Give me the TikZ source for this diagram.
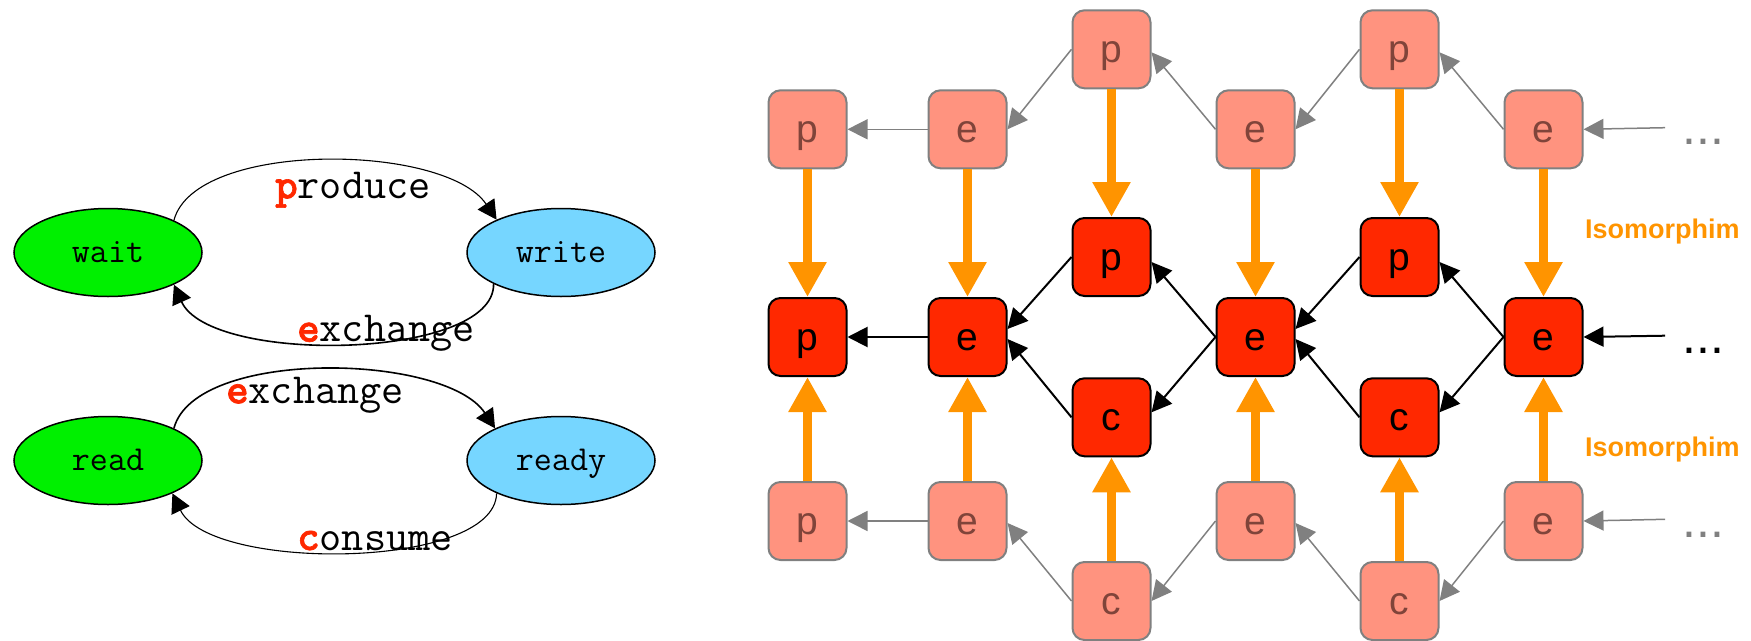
\documentclass[tikz,border=0pt]{standalone}
\usepackage{fontspec}
\usetikzlibrary{arrows.meta,shapes.geometric}
\newfontfamily\arialf{Liberation Sans}
\newfontfamily\monobold{lmmonolt10-bold}[Extension=.otf, FakeBold=1.5]
\definecolor{nodered}{RGB}{255,40,0}
\definecolor{lightfill}{RGB}{255,147,127}
\definecolor{lighttext}{RGB}{128,68,58}
\definecolor{graycol}{RGB}{128,128,128}
\definecolor{isoorange}{RGB}{255,148,0}
\definecolor{stgreen}{RGB}{0,240,0}
\definecolor{stblue}{RGB}{118,214,255}
\newcommand\initl[1]{\textcolor{nodered}{\monobold #1}}
\begin{document}
\begin{tikzpicture}[x=1pt,y=-1pt,
  state/.style={ellipse, draw, line width=1.5pt, minimum width=188pt, minimum height=88pt,
    inner sep=0pt, font=\ttfamily\fontsize{35}{40}\selectfont, text height=20pt, text depth=0pt},
  lbl/.style={anchor=base west, inner sep=0pt, font=\ttfamily\fontsize{43}{48}\selectfont},
  trans/.style={-{Triangle[length=19pt,width=20pt]}, line width=1.1pt},
  box/.style={rectangle, rounded corners=12pt, minimum width=78pt, minimum height=78pt,
    inner sep=0pt, font=\arialf\fontsize{39}{45}\selectfont, text height=26.5pt, text depth=0pt},
  dbox/.style={box, draw=black, fill=nodered, line width=2pt, text=black},
  lbox/.style={box, draw=graycol, fill=lightfill, line width=2pt, text=lighttext},
  darr/.style={-{Triangle[length=20pt,width=20pt]}, line width=2pt, draw=black},
  larr/.style={-{Triangle[length=20pt,width=20pt]}, line width=1.5pt, draw=graycol},
  isoarr/.style={-{Triangle[length=35pt,width=36pt]}, line width=9pt, draw=isoorange},
  dots/.style={anchor=base west, inner sep=0pt, font=\arialf\fontsize{50}{60}\selectfont},
  isol/.style={anchor=base west, inner sep=0pt, text=isoorange, font=\arialf\bfseries\fontsize{27}{32}\selectfont}
]
\useasboundingbox (0,0) rectangle (1751,640);

% ---------- left state machines ----------
\node[state, fill=stgreen] (wait) at (108,252.5) {wait};
\node[state, fill=stblue] (write) at (561,252.5) {write};
\node[state, fill=stgreen] (read) at (108,460.5) {read};
\node[state, fill=stblue] (ready) at (561,460.5) {ready};

\draw[trans] (wait.26) .. controls (195,140) and (445,143) .. (write.153);
\draw[trans, line width=1.6pt] (write.205) .. controls (495,360) and (210,365) .. (wait.334);
\draw[trans, line width=1.6pt] (read.26) .. controls (195,348) and (445,353) .. (ready.154);
\draw[trans] (ready.207) .. controls (495,570) and (210,572) .. (read.333);

\node[lbl] (lp) at (275,198.3) {\initl{p}roduce};
\node[lbl] (le1) at (297,341.7) {\initl{e}xchange};
\node[lbl] (le2) at (226,403.3) {\initl{e}xchange};
\node[lbl] (lc) at (297,550) {\initl{c}onsume};

% ---------- right lattice ----------
% light top
\node[lbox] (lP1) at (807.5,129.3) {p};
\node[lbox] (lE2) at (967.5,129.3) {e};
\node[lbox] (lP3) at (1111.5,49.3) {p};
\node[lbox] (lE4) at (1255.5,129.3) {e};
\node[lbox] (lP5) at (1399.5,49.3) {p};
\node[lbox] (lE6) at (1543.5,129.3) {e};
% dark middle
\node[dbox] (dP1) at (807.5,337) {p};
\node[dbox] (dE2) at (967.5,337) {e};
\node[dbox] (dP3) at (1111.5,257) {p};
\node[dbox] (dC3) at (1111.5,417.3) {c};
\node[dbox] (dE4) at (1255.5,337) {e};
\node[dbox] (dP5) at (1399.5,257) {p};
\node[dbox] (dC5) at (1399.5,417.3) {c};
\node[dbox] (dE6) at (1543.5,337) {e};
% light bottom
\node[lbox] (bP1) at (807.5,521) {p};
\node[lbox] (bE2) at (967.5,521) {e};
\node[lbox] (bC3) at (1111.5,601) {c};
\node[lbox] (bE4) at (1255.5,521) {e};
\node[lbox] (bC5) at (1399.5,601) {c};
\node[lbox] (bE6) at (1543.5,521) {e};

% dots and labels
\node[dots, text=graycol] (dt1) at (1682,144) {...};
\node[dots, text=black] (dt2) at (1682,353.5) {...};
\node[dots, text=graycol] (dt3) at (1682,537.5) {...};
\coordinate (s1) at (1665,127.7);
\coordinate (s2) at (1665,335.7);
\coordinate (s3) at (1665,519.3);
\node[isol] (iso1) at (1585,238.3) {Isomorphim};
\node[isol] (iso2) at (1585,456.7) {Isomorphim};

% gray edges top
\draw[larr] (lE2.west) -- (lP1.east);
\draw[larr] (lP3.west) -- (lE2.east);
\draw[larr] (lE4.west) -- ([yshift=-3pt]lP3.east);
\draw[larr] (lP5.west) -- (lE4.east);
\draw[larr] (lE6.west) -- ([yshift=-3pt]lP5.east);
\draw[larr] (s1) -- (lE6.east);
% gray edges bottom
\draw[larr] (bE2.west) -- (bP1.east);
\draw[larr] (bC3.west) -- ([yshift=-2pt]bE2.east);
\draw[larr] (bE4.west) -- (bC3.east);
\draw[larr] (bC5.west) -- ([yshift=-2pt]bE4.east);
\draw[larr] (bE6.west) -- (bC5.east);
\draw[larr] (s3) -- (bE6.east);
% black edges
\draw[darr] (dE2.west) -- (dP1.east);
\draw[darr] (dP3.west) -- ([yshift=8pt]dE2.east);
\draw[darr] (dC3.west) -- ([yshift=-2pt]dE2.east);
\draw[darr] (dE4.west) -- ([yshift=-5pt]dP3.east);
\draw[darr] (dE4.west) -- ([yshift=5pt]dC3.east);
\draw[darr] (dP5.west) -- ([yshift=8pt]dE4.east);
\draw[darr] (dC5.west) -- ([yshift=-2pt]dE4.east);
\draw[darr] (dE6.west) -- ([yshift=-5pt]dP5.east);
\draw[darr] (dE6.west) -- ([yshift=5pt]dC5.east);
\draw[darr] (s2) -- (dE6.east);

% orange isomorphism arrows
\draw[isoarr] (lP1.south) -- (dP1.north);
\draw[isoarr] (lE2.south) -- (dE2.north);
\draw[isoarr] (lP3.south) -- (dP3.north);
\draw[isoarr] (lE4.south) -- (dE4.north);
\draw[isoarr] (lP5.south) -- (dP5.north);
\draw[isoarr] (lE6.south) -- (dE6.north);
\draw[isoarr] (bP1.north) -- (dP1.south);
\draw[isoarr] (bE2.north) -- (dE2.south);
\draw[isoarr] (bC3.north) -- (dC3.south);
\draw[isoarr] (bE4.north) -- (dE4.south);
\draw[isoarr] (bC5.north) -- (dC5.south);
\draw[isoarr] (bE6.north) -- (dE6.south);
\end{tikzpicture}
\end{document}
